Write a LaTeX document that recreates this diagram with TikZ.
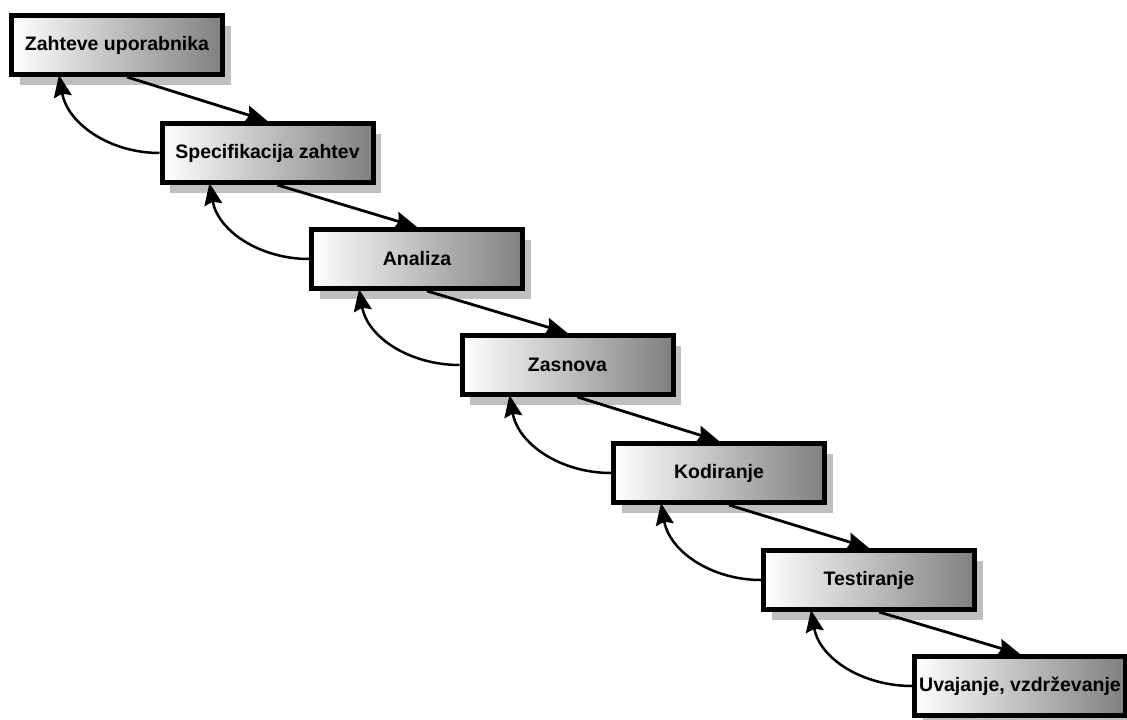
\documentclass[tikz,border=0pt]{standalone}
\usepackage{fontspec}
\setmainfont{Liberation Sans}
\usetikzlibrary{arrows.meta,shadows}
\begin{document}
\begin{tikzpicture}[x=1pt,y=-1pt,
  phase/.style={draw=black, line width=5pt, minimum width=211pt, minimum height=59pt,
    inner sep=0pt, left color=white, right color=black!50,
    font=\fontsize{19.5}{22}\selectfont\bfseries,
    drop shadow={shadow xshift=8pt, shadow yshift=-10pt, fill=black!25, opacity=1}},
  fwd/.style={line width=2.8pt, arrows={-Stealth[length=22pt,width=18pt,inset=3pt]}},
  back/.style={line width=2.5pt, arrows={-Stealth[length=22pt,width=18pt,inset=3pt]}}]
\useasboundingbox (0,0) rectangle (1127,720);
\node[phase] (b1) at (117,45) {Zahteve uporabnika};
\node[phase] (b2) at (267.5,153) {Specifikacija zahtev};
\node[phase] (b3) at (417,259) {Analiza};
\node[phase] (b4) at (567.5,365) {Zasnova};
\node[phase] (b5) at (719,473) {Kodiranje};
\node[phase] (b6) at (869,580) {Testiranje};
\node[phase] (b7) at (1020,686) {Uvajanje, vzdrževanje};
\foreach \a/\b in {b1/b2,b2/b3,b3/b4,b4/b5,b5/b6,b6/b7}{
  \draw[fwd] ([xshift=10pt]\a.south) -- (\b.north);
  \draw[back] (\b.west) to[out=180,in=-80] ([xshift=50pt,yshift=2pt]\a.south west);
}
\end{tikzpicture}
\end{document}
